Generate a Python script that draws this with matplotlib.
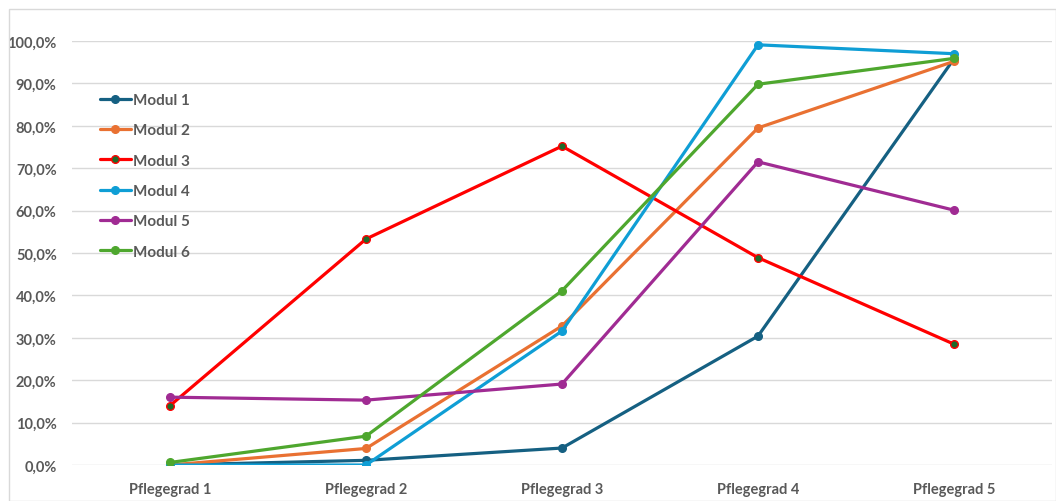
import matplotlib
matplotlib.use("Agg")
import matplotlib.pyplot as plt
from matplotlib.ticker import FuncFormatter, MultipleLocator
from matplotlib.patches import Rectangle

categories = ["Pflegegrad 1", "Pflegegrad 2", "Pflegegrad 3", "Pflegegrad 4", "Pflegegrad 5"]
modul_1 = [0.000, 0.011, 0.040, 0.304, 0.958]
modul_2 = [0.000, 0.039, 0.328, 0.795, 0.952]
modul_3 = [0.140, 0.533, 0.752, 0.489, 0.285]
modul_4 = [0.000, 0.000, 0.316, 0.991, 0.970]
modul_5 = [0.160, 0.153, 0.191, 0.715, 0.601]
modul_6 = [0.006, 0.068, 0.411, 0.898, 0.959]

series = [
    ("Modul 1", modul_1, "#156082", "#156082"),
    ("Modul 2", modul_2, "#E97132", "#E97132"),
    ("Modul 3", modul_3, "#FF0000", "#1E6B2A"),
    ("Modul 4", modul_4, "#0F9ED5", "#0F9ED5"),
    ("Modul 5", modul_5, "#A02B93", "#A02B93"),
    ("Modul 6", modul_6, "#4EA72E", "#4EA72E"),
]

plt.rcParams["font.family"] = ["Lato", "DejaVu Sans"]
text_color = "#595959"

W, H = 1056, 502
fig = plt.figure(figsize=(W / 100, H / 100), dpi=100)
fig.patch.set_facecolor("white")

# chart area border
fig.patches.append(Rectangle((9 / W, 0), 1 - 9 / W, 1 - 10 / H, transform=fig.transFigure,
                             fill=False, edgecolor="#d9d9d9", linewidth=1.0))

ax = fig.add_axes([72 / W, (H - 466) / H, (1052 - 72) / W, (466 - 42) / H])
x = list(range(len(categories)))
for name, vals, col, mfc in series:
    ax.plot(x, vals, color=col, linewidth=2.3, marker="o", markersize=5.5,
            markerfacecolor=mfc, markeredgecolor=col, markeredgewidth=1.0,
            label=name, solid_capstyle="round", zorder=3)

ax.set_xlim(-0.5, len(categories) - 0.5)
ax.set_ylim(0, 1.0)
ax.yaxis.set_major_locator(MultipleLocator(0.1))
ax.yaxis.set_major_formatter(FuncFormatter(lambda v, p: f"{v * 100:.1f}%".replace(".", ",")))
ax.set_xticks(x)
ax.set_xticklabels(categories)
ax.grid(axis="y", color="#d9d9d9", linewidth=1.0, zorder=0)
ax.set_axisbelow(True)
for s in ax.spines.values():
    s.set_visible(False)
ax.tick_params(axis="both", length=0, colors=text_color, labelsize=10.5)
ax.tick_params(axis="y", pad=11)
ax.tick_params(axis="x", pad=12)
for lab in ax.get_xticklabels() + ax.get_yticklabels():
    lab.set_fontweight("bold")
    lab.set_color(text_color)

leg = ax.legend(loc="upper left", bbox_to_anchor=(100 / W, (H - 94) / H),
                bbox_transform=fig.transFigure, frameon=False,
                prop={"weight": "bold", "size": 11}, labelcolor=text_color,
                handlelength=2.0, handletextpad=0.15, labelspacing=1.07,
                borderpad=0, borderaxespad=0)

fig.savefig("out.png", dpi=100, facecolor="white")
